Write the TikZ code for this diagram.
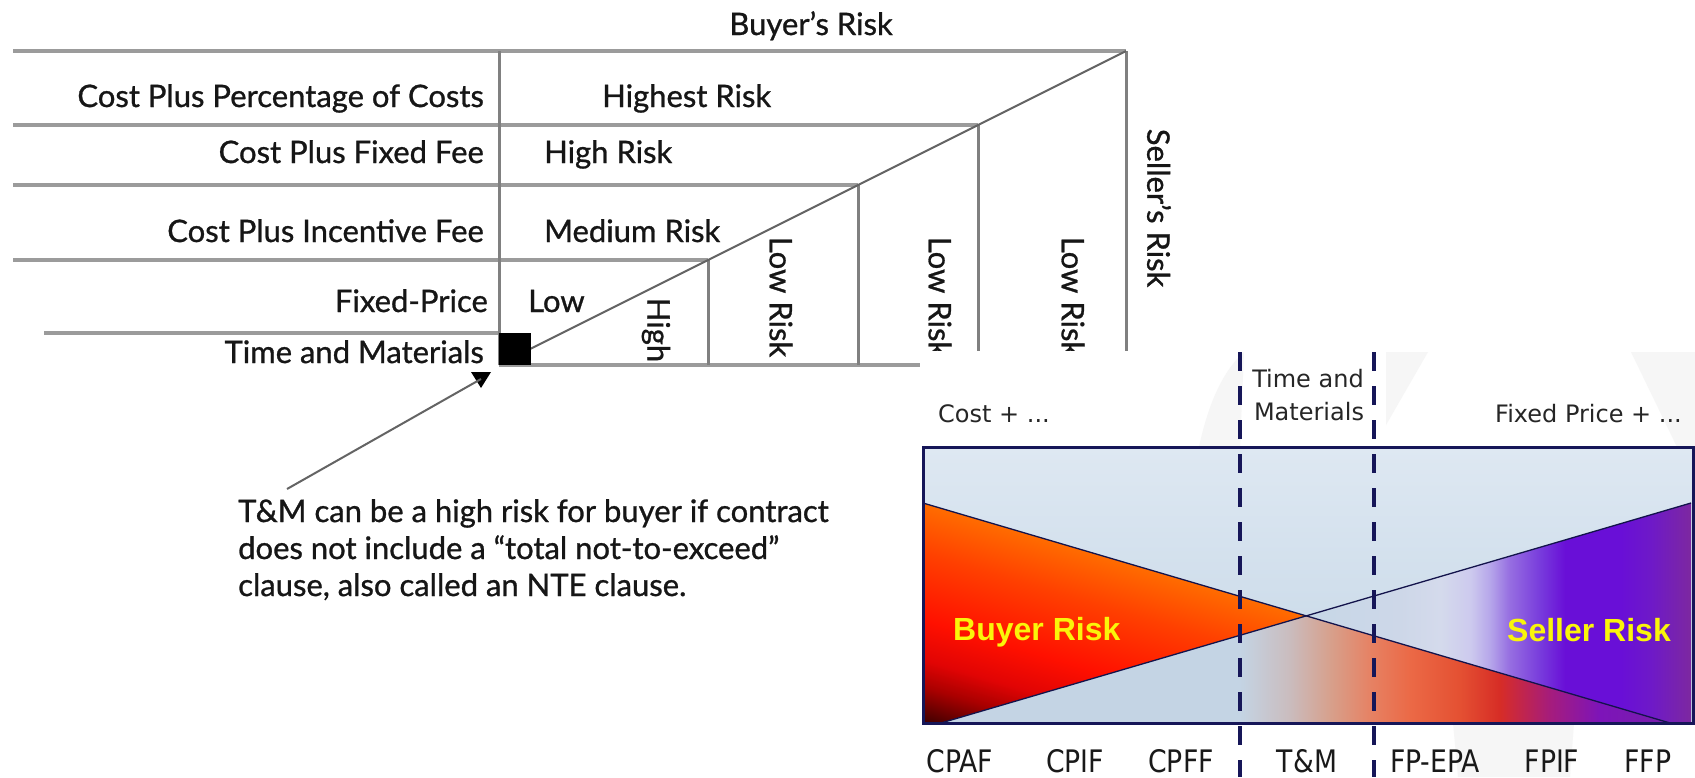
\documentclass[tikz,border=0pt]{standalone}
\usepackage{fontspec}
\setmainfont{Lato}[FakeBold=0.9]
\newfontfamily\chartfont{DejaVu Sans}
\newfontfamily\riskfont{Liberation Sans}

% table colours
\definecolor{rule}{RGB}{155,155,155}
\definecolor{ruledark}{RGB}{128,128,128}
\definecolor{diagline}{RGB}{100,100,100}
\definecolor{ink}{RGB}{22,22,22}
\definecolor{logogray}{RGB}{246,246,246}
% chart colours
\definecolor{navy}{RGB}{22,22,88}
\definecolor{boxtop}{RGB}{222,232,242}
\definecolor{boxbot}{RGB}{196,214,230}
\definecolor{k0}{RGB}{60,0,0}
\definecolor{k1}{RGB}{170,0,0}
\definecolor{k2}{RGB}{225,4,4}
\definecolor{k3}{RGB}{255,16,0}
\definecolor{k4}{RGB}{255,64,0}
\definecolor{k5}{RGB}{255,108,0}
\definecolor{s0}{RGB}{198,215,231}
\definecolor{sa}{RGB}{205,215,232}
\definecolor{sb}{RGB}{212,218,236}
\definecolor{sc}{RGB}{205,202,238}
\definecolor{sd}{RGB}{182,166,234}
\definecolor{se}{RGB}{150,110,225}
\definecolor{sf}{RGB}{120,60,220}
\definecolor{sg}{RGB}{105,15,215}
\definecolor{sh}{RGB}{110,25,200}
\definecolor{si}{RGB}{125,40,160}
\definecolor{i0}{RGB}{196,212,228}
\definecolor{i1}{RGB}{202,188,190}
\definecolor{i2}{RGB}{215,160,140}
\definecolor{i3}{RGB}{230,130,100}
\definecolor{i4}{RGB}{235,105,70}
\definecolor{i5}{RGB}{228,80,50}
\definecolor{i6}{RGB}{215,45,38}
\definecolor{i7}{RGB}{165,28,125}
\definecolor{i8}{RGB}{125,20,185}
\definecolor{i9}{RGB}{120,30,170}
\definecolor{riskyellow}{RGB}{250,245,10}

% buyer wedge, measured across the wedge from its top edge to the lower left corner
\pgfdeclareverticalshading{buyerband}{100bp}{color(0bp)=(k0); color(26.3bp)=(k0);
  color(34.2bp)=(k1); color(40bp)=(k2); color(48.5bp)=(k3); color(62.9bp)=(k4);
  color(73.7bp)=(k5); color(100bp)=(k5)}
% seller wedge: light blue on the left, purple on the right
\pgfdeclarehorizontalshading{sellershade}{100bp}{color(0bp)=(s0); color(48.9bp)=(s0);
  color(55.6bp)=(sa); color(58.3bp)=(sb); color(60.3bp)=(sc); color(61.6bp)=(sd);
  color(62.9bp)=(se); color(64.9bp)=(sf); color(66.6bp)=(sg); color(70.3bp)=(sg);
  color(72.3bp)=(sh); color(75bp)=(si); color(100bp)=(si)}
% where both wedges overlap
\pgfdeclarehorizontalshading{overlapshade}{100bp}{color(0bp)=(i0); color(45.5bp)=(i0);
  color(48.9bp)=(i1); color(51.7bp)=(i2); color(54.4bp)=(i3); color(57.2bp)=(i4);
  color(60.6bp)=(i5); color(63.3bp)=(i6); color(66.8bp)=(i7); color(70.2bp)=(i8);
  color(75bp)=(i9); color(100bp)=(i9)}

\begin{document}
\begin{tikzpicture}[x=1pt,y=-1pt,
  hrule/.style={draw=rule, line width=3.5pt},
  vrule/.style={draw=ruledark, line width=3pt},
  lbl/.style={font=\fontsize{31}{37}\selectfont, text=ink, inner sep=0pt},
  vlbl/.style={lbl, rotate=-90},
  headlbl/.style={font=\chartfont\fontsize{24}{30}\selectfont, text=black!85, inner sep=0pt},
  codelbl/.style={font=\chartfont\fontsize{31}{36}\selectfont, text=black!90, inner sep=0pt, anchor=base},
  risklbl/.style={font=\riskfont\bfseries\fontsize{32}{38}\selectfont, text=riskyellow, inner sep=0pt, anchor=base west},
  dividerline/.style={draw=navy, line width=4pt, dash pattern=on 19pt off 15pt},
  wedgeedge/.style={draw=navy!85!black, line width=1.3pt}]

\useasboundingbox (0,0) rectangle (1695,777);
\fill[white] (0,0) rectangle (1695,777);

% ---------- risk table ----------
\coordinate (d0) at (530,349);
\coordinate (d1) at (708,260);
\coordinate (d2) at (858,185);
\coordinate (d3) at (978,125);
\coordinate (d4) at (1126,51);

\draw[hrule] (13,51) -- (d4);
\draw[hrule] (13,125) -- (d3);
\draw[hrule] (13,185) -- (d2);
\draw[hrule] (13,260) -- (d1);
\draw[hrule] (44,333) -- (499,333);
\draw[hrule] (499,365) -- (1000,365);
\draw[vrule] (499,51) -- (499,365);
\draw[vrule] (d1) -- (708,365);
\draw[vrule] (d2) -- (858,365);
\draw[vrule] (d3) -- (978,400);
\draw[vrule] (d4) -- (1126,400);
\draw[draw=diagline, line width=2pt] (d0) -- (d4);
\fill[black] (499,333) rectangle (531,365);

\node[lbl, anchor=base] (buyerhead) at (811,35) {Buyer’s Risk};
\node[lbl, anchor=base east] (cppc) at (484,107) {Cost Plus Percentage of Costs};
\node[lbl, anchor=base east] (cpff) at (484,163) {Cost Plus Fixed Fee};
\node[lbl, anchor=base east] (cpif) at (484,242) {Cost Plus Incentive Fee};
\node[lbl, anchor=base east] (fixp) at (488,312) {Fixed-Price};
\node[lbl, anchor=base east] (tandm) at (484,363) {Time and Materials};

\node[lbl, anchor=base west] (highest) at (602,107) {Highest Risk};
\node[lbl, anchor=base west] (high) at (544,163) {High Risk};
\node[lbl, anchor=base west] (medium) at (544,242) {Medium Risk};
\node[lbl, anchor=base west] (low) at (528,312) {Low};

\node[vlbl] (vhigh) at (656,330) {High};
\node[vlbl] (vlow1) at (781,297) {Low Risk};
\node[vlbl] (vlow2) at (940,297) {Low Risk};
\node[vlbl] (vlow3) at (1073,297) {Low Risk};
\node[vlbl] (sellerhead) at (1159,208) {Seller’s Risk};

% note on time and materials contracts
\node[lbl, anchor=base west] (note1) at (238,522) {T\&M can be a high risk for buyer if contract};
\node[lbl, anchor=base west] (note2) at (238,559) {does not include a “total not-to-exceed”};
\node[lbl, anchor=base west] (note3) at (238,596) {clause, also called an NTE clause.};
\coordinate (tmtail) at (287,489);
\coordinate (tmtip) at (481,379);
\fill[black] (471,372) -- (491,372) -- (481,388) -- cycle;
\draw[draw=diagline, line width=2pt] (tmtail) -- (tmtip);

% ---------- risk spectrum chart ----------
\fill[white] (920,351) rectangle (1695,777);
% faint logo behind the chart
\fill[logogray] (1199,447) .. controls (1208,405) and (1222,372) .. (1244,352) -- (1240,447) -- cycle;
\fill[logogray] (1386,352) -- (1428,352) -- (1386,425) -- cycle;
\fill[logogray] (1631,352) -- (1695,352) -- (1695,447) -- (1677,447) -- cycle;
\fill[logogray] (1453,723) -- (1574,723) -- (1570,777) -- (1458,777) -- cycle;

\shade[top color=boxtop, bottom color=boxbot] (923,447) rectangle (1693,723);
\begin{scope}
  \clip (923,503) -- (1670,723) -- (923,723) -- cycle;
  \shade[transform canvas={rotate around={-16.4:(923,503)}}, shading=buyerband]
    (890,497) rectangle (1720,720);
\end{scope}
\shade[shading=sellershade] (941,723) -- (1691,503) -- (1691,723) -- cycle;
\shade[shading=overlapshade] (1306,616) -- (1670,723) -- (941,723) -- cycle;
\draw[wedgeedge] (923,503) -- (1670,723);
\draw[wedgeedge] (941,723) -- (1691,503);
\draw[draw=navy, line width=3pt] (923,447) rectangle (1693,723);

\coordinate (dvA1) at (1240,352);
\coordinate (dvA2) at (1240,777);
\coordinate (dvB1) at (1374,352);
\coordinate (dvB2) at (1374,777);
\draw[dividerline] (dvA1) -- (dvA2);
\draw[dividerline] (dvB1) -- (dvB2);

\node[headlbl, anchor=base west] (costplus) at (938,422) {Cost + ...};
\node[headlbl, anchor=base] (tmtop1) at (1308,387) {Time and};
\node[headlbl, anchor=base] (tmtop2) at (1309,420) {Materials};
\node[headlbl, anchor=base east] (fpplus) at (1682,422) {Fixed Price + ...};

\node[risklbl] (buyerrisk) at (953,640) {Buyer Risk};
\node[risklbl] (sellerrisk) at (1507,641) {Seller Risk};

\node[codelbl] (cpaf) at (960,772) {\scalebox{0.86}[1]{CPAF}};
\node[codelbl] (cpifc) at (1075,772) {\scalebox{0.86}[1]{CPIF}};
\node[codelbl] (cpffc) at (1181,772) {\scalebox{0.86}[1]{CPFF}};
\node[codelbl] (tmc) at (1307,772) {\scalebox{0.86}[1]{T\&M}};
\node[codelbl] (fpepa) at (1435,772) {\scalebox{0.86}[1]{FP-EPA}};
\node[codelbl] (fpif) at (1552,772) {\scalebox{0.86}[1]{FPIF}};
\node[codelbl] (ffp) at (1648,772) {\scalebox{0.86}[1]{FFP}};
\end{tikzpicture}
\end{document}
